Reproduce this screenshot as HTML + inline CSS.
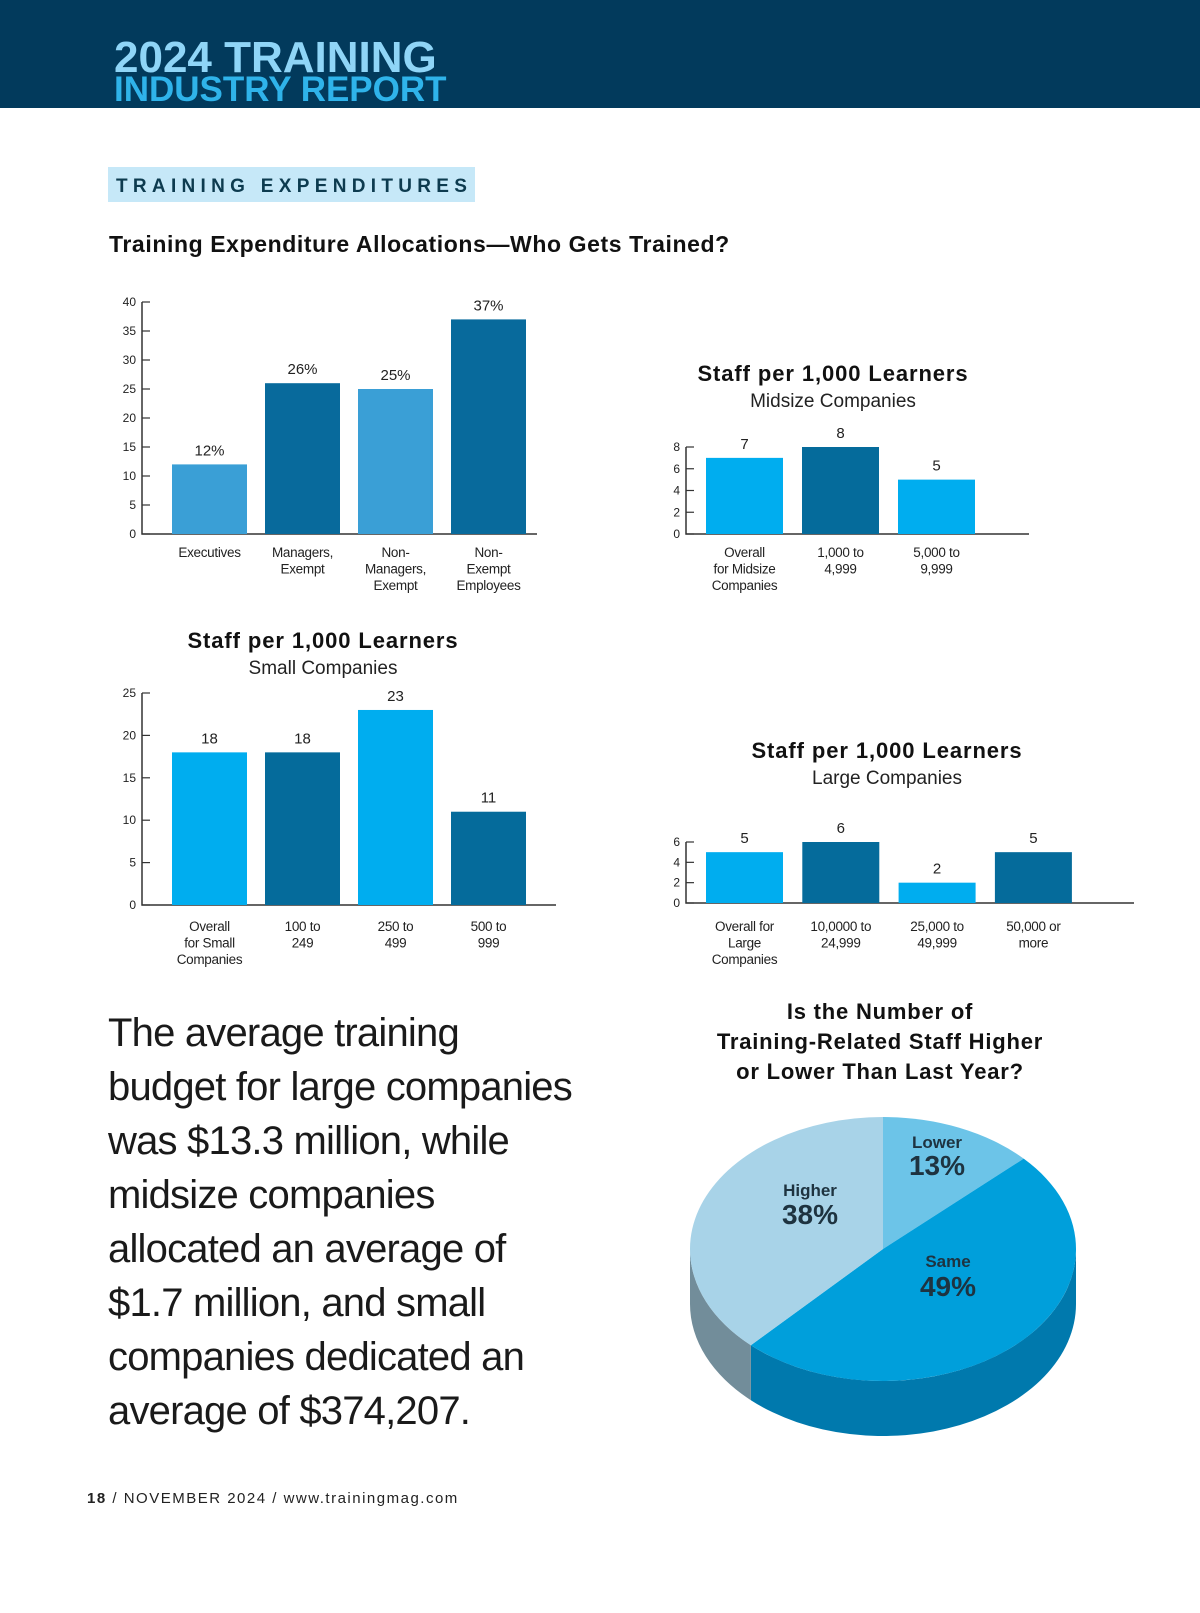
<!DOCTYPE html>
<html><head><meta charset="utf-8"><style>
body{margin:0;background:#fff;}
svg{display:block;font-family:"Liberation Sans",sans-serif;}
</style></head><body>
<svg id="page" width="1200" height="1613" viewBox="0 0 1200 1613" xmlns="http://www.w3.org/2000/svg">
<rect x="0" y="0" width="1200" height="108" fill="#023a5c"/>
<text x="114" y="72" font-size="44" font-weight="bold" fill="#8fd5f7" letter-spacing="0">2024 TRAINING</text>
<text x="114" y="101" font-size="35" font-weight="bold" fill="#2fb3ea" letter-spacing="0">INDUSTRY REPORT</text>
<rect x="108" y="167" width="367" height="35" fill="#c6e8f8"/>
<text x="116" y="192" font-size="19" font-weight="bold" fill="#0d3b4f" letter-spacing="5.3">TRAINING EXPENDITURES</text>
<text x="109" y="252" font-size="23" font-weight="bold" fill="#111" letter-spacing="0.6">Training Expenditure Allocations—Who Gets Trained?</text>
<g id="c1"></g><g id="c2"></g><g id="c3"></g><g id="c4"></g>
<g text-anchor="middle">
<text x="833" y="381" font-size="22" font-weight="bold" fill="#111" letter-spacing="0.9">Staff per 1,000 Learners</text>
<text x="833" y="407" font-size="19" fill="#222">Midsize Companies</text></g>
<g text-anchor="middle">
<text x="323" y="648" font-size="22" font-weight="bold" fill="#111" letter-spacing="0.9">Staff per 1,000 Learners</text>
<text x="323" y="674" font-size="19" fill="#222">Small Companies</text></g>
<g text-anchor="middle">
<text x="887" y="758" font-size="22" font-weight="bold" fill="#111" letter-spacing="0.9">Staff per 1,000 Learners</text>
<text x="887" y="784" font-size="19" fill="#222">Large Companies</text></g>
<g font-size="40" fill="#1a1a1a" letter-spacing="-0.8">
<text x="108" y="1046">The average training</text>
<text x="108" y="1100">budget for large companies</text>
<text x="108" y="1154">was $13.3 million, while</text>
<text x="108" y="1208">midsize companies</text>
<text x="108" y="1262">allocated an average of</text>
<text x="108" y="1316">$1.7 million, and small</text>
<text x="108" y="1370">companies dedicated an</text>
<text x="108" y="1424">average of $374,207.</text></g>
<g text-anchor="middle" font-size="22" font-weight="bold" fill="#111" letter-spacing="0.8">
<text x="880" y="1019">Is the Number of</text>
<text x="880" y="1049">Training-Related Staff Higher</text>
<text x="880" y="1079">or Lower Than Last Year?</text></g>
<g id="pie"></g>
<text x="87" y="1503" font-size="15" fill="#222" letter-spacing="1.5"><tspan font-weight="bold">18</tspan> / NOVEMBER 2024 / www.trainingmag.com</text>
</svg>
<script>
const NS="http://www.w3.org/2000/svg";
function mk(p,tag,attrs,txt){const e=document.createElementNS(NS,tag);for(const k in attrs)e.setAttribute(k,attrs[k]);if(txt!==undefined)e.textContent=txt;p.appendChild(e);return e;}

// Chart 1 data
const c1Cats=[["Executives"],["Managers,","Exempt"],["Non-","Managers,","Exempt"],["Non-","Exempt","Employees"]];
const c1Vals=[12,26,25,37];
const c1Labels=["12%","26%","25%","37%"];
const c1Ticks=[0,5,10,15,20,25,30,35,40];
// Chart 2 midsize
const c2Cats=[["Overall","for Midsize","Companies"],["1,000 to","4,999"],["5,000 to","9,999"]];
const c2Vals=[7,8,5];
const c2Labels=["7","8","5"];
const c2Ticks=[0,2,4,6,8];
// Chart 3 small
const c3Cats=[["Overall","for Small","Companies"],["100 to","249"],["250 to","499"],["500 to","999"]];
const c3Vals=[18,18,23,11];
const c3Labels=["18","18","23","11"];
const c3Ticks=[0,5,10,15,20,25];
// Chart 4 large
const c4Cats=[["Overall for","Large","Companies"],["10,0000 to","24,999"],["25,000 to","49,999"],["50,000 or","more"]];
const c4Vals=[5,6,2,5];
const c4Labels=["5","6","2","5"];
const c4Ticks=[0,2,4,6];
// Pie
const pieCats=["Lower","Same","Higher"];
const pieVals=[13,49,38];

function barChart(id,name,cats,vals,labels,ticks,cfg){
  const g=document.getElementById(id);
  
  
  const max=ticks[ticks.length-1];
  const y=v=>cfg.y0-(v/max)*(cfg.y0-cfg.yTop);
  const ax=mk(g,'path',{d:`M${cfg.ax} ${cfg.yTop}V${cfg.y0}H${cfg.axEnd}`,stroke:'#333','stroke-width':1.5,fill:'none'});
  
  
  ticks.forEach(t=>{
    const l=mk(g,'line',{x1:cfg.ax,x2:cfg.ax+8,y1:y(t),y2:y(t),stroke:'#333','stroke-width':1.2});
    
    
    const tx=mk(g,'text',{x:cfg.ax-6,y:y(t)+4,'font-size':12,'text-anchor':'end',fill:'#222'},t);
    
    
  });
  vals.forEach((v,i)=>{
    const x=cfg.x0+i*cfg.step;
    const r=mk(g,'rect',{x:x,y:y(v),width:cfg.w,height:cfg.y0-y(v),fill:cfg.colors[i%cfg.colors.length]});
    
    
    const lb=mk(g,'text',{x:x+cfg.w/2,y:y(v)-9,'font-size':15,'text-anchor':'middle',fill:'#222'},labels[i]);
    
    
    cats[i].forEach((s,j)=>{
      const c=mk(g,'text',{x:x+cfg.w/2,y:cfg.labY+j*16.5,'font-size':13.5,'text-anchor':'middle',fill:'#222','letter-spacing':'-0.3'},s);
      
      
    });
  });
}
barChart('c1','allocation-chart',c1Cats,c1Vals,c1Labels,c1Ticks,{ax:142,y0:534,yTop:302,axEnd:537,x0:172,step:93,w:75,labY:557,colors:['#3a9fd6','#086a9c']});
barChart('c2','midsize-chart',c2Cats,c2Vals,c2Labels,c2Ticks,{ax:686,y0:534,yTop:447,axEnd:1029,x0:706,step:96,w:77,labY:557,colors:['#00adef','#056b9b']});
barChart('c3','small-chart',c3Cats,c3Vals,c3Labels,c3Ticks,{ax:142,y0:905,yTop:693,axEnd:556,x0:172,step:93,w:75,labY:931,colors:['#00adef','#056b9b']});
barChart('c4','large-chart',c4Cats,c4Vals,c4Labels,c4Ticks,{ax:686,y0:903,yTop:842,axEnd:1134,x0:706,step:96.3,w:77,labY:931,colors:['#00adef','#056b9b']});

(function(){
  const g=document.getElementById('pie');
  
  
  const cx=883,cy=1249,rx=193,ry=132,d=55;
  const top=['#6cc4e8','#009fdb','#a8d3e8'],side=['#4a9cc0','#0079ad','#728d9a'];
  const lab=[[937,1148,1175],[948,1267,1296],[810,1196,1224]];
  const P=(t,dy)=>[cx+rx*Math.sin(t*Math.PI/180),cy-ry*Math.cos(t*Math.PI/180)+(dy||0)];
  const tot=pieVals.reduce((a,b)=>a+b,0);
  let a=0;const segs=[];
  pieVals.forEach(v=>{const b=a+v/tot*360;segs.push([a,b]);a=b;});
  segs.forEach(([s,e],i)=>{
    const a1=Math.max(s,90),b1=Math.min(e,270);
    if(b1>a1){
      const p1=P(a1),p2=P(b1),q2=P(b1,d),q1=P(a1,d),lg=(b1-a1)>180?1:0;
      const sp=mk(g,'path',{d:`M${p1}A${rx} ${ry} 0 ${lg} 1 ${p2}L${q2}A${rx} ${ry} 0 ${lg} 0 ${q1}Z`,fill:side[i]});
      
      
    }
  });
  segs.forEach(([s,e],i)=>{
    const p1=P(s),p2=P(e),lg=(e-s)>180?1:0;
    const tp=mk(g,'path',{d:`M${cx} ${cy}L${p1}A${rx} ${ry} 0 ${lg} 1 ${p2}Z`,fill:top[i]});
    
    
  });
  segs.forEach((sg,i)=>{
    const t1=mk(g,'text',{x:lab[i][0],y:lab[i][1],'font-size':17,'font-weight':'bold','text-anchor':'middle',fill:'#1e3340'},pieCats[i]);
    
    
    const t2=mk(g,'text',{x:lab[i][0],y:lab[i][2],'font-size':28,'font-weight':'bold','text-anchor':'middle',fill:'#1e3340'},pieVals[i]+'%');
    
    
  });
})();
</script>
</body></html>
